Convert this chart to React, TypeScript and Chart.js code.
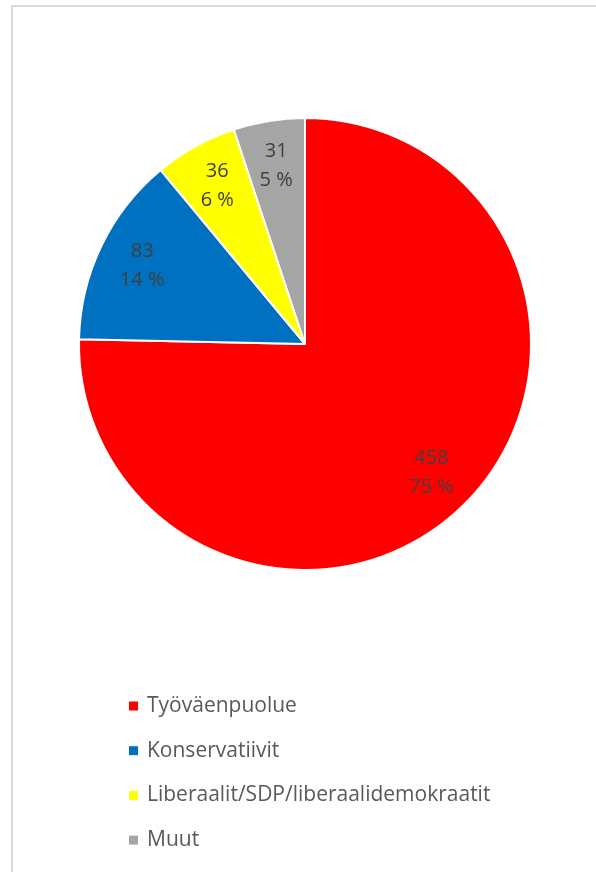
import React, { useEffect, useRef } from "react";
import { Chart, registerables } from "chart.js";

Chart.register(...registerables);

const categories = ["Työväenpuolue", "Konservatiivit", "Liberaalit/SDP/liberaalidemokraatit", "Muut"];
const seats = [458, 83, 36, 31];
const colors = ["#FF0000", "#0070C0", "#FFFF00", "#A5A5A5"];

const FONT = "'Open Sans', Lato, sans-serif";

const labelPlugin = {
  id: "sliceLabels",
  afterDatasetsDraw(chart: any) {
    const ctx = chart.ctx;
    const meta = chart.getDatasetMeta(0);
    const data = chart.data.datasets[0].data as number[];
    const total = data.reduce((a, b) => a + b, 0);
    ctx.save();
    ctx.font = `20px ${FONT}`;
    ctx.fillStyle = "#404040";
    ctx.textAlign = "center";
    ctx.textBaseline = "middle";
    meta.data.forEach((arc: any, i: number) => {
      const p = arc.getProps(["x", "y", "startAngle", "endAngle", "outerRadius"], true);
      const mid = (p.startAngle + p.endAngle) / 2;
      const d = p.outerRadius * 0.8;
      const cx = p.x + Math.cos(mid) * d;
      const cy = p.y + Math.sin(mid) * d;
      ctx.fillText(String(data[i]), cx, cy - 14.5);
      ctx.fillText(Math.round((data[i] / total) * 100) + " %", cx, cy + 14.5);
    });
    ctx.restore();
  },
};

const legendPlugin = {
  id: "listLegend",
  afterDraw(chart: any) {
    const ctx = chart.ctx;
    ctx.save();
    ctx.font = `21px ${FONT}`;
    ctx.textBaseline = "middle";
    ctx.textAlign = "left";
    const startY = 706;
    const step = 44.7;
    chart.data.labels.forEach((lab: string, i: number) => {
      const y = startY + i * step;
      ctx.fillStyle = colors[i];
      ctx.fillRect(129, y - 4.5, 9, 9);
      ctx.fillStyle = "#595959";
      ctx.fillText(lab, 147, y);
    });
    ctx.restore();
  },
};

export default function App() {
  const ref = useRef<HTMLCanvasElement>(null);
  useEffect(() => {
    if (!ref.current) return;
    const chart = new Chart(ref.current, {
      type: "pie",
      data: {
        labels: categories,
        datasets: [
          {
            data: seats,
            backgroundColor: colors,
            borderColor: "#FFFFFF",
            borderWidth: 2,
          },
        ],
      },
      options: {
        responsive: false,
        animation: false,
        layout: { padding: { left: 78, right: 64, top: 117, bottom: 301 } },
        plugins: {
          legend: { display: false },
          tooltip: { enabled: false },
        },
      },
      plugins: [labelPlugin, legendPlugin],
    });
    return () => chart.destroy();
  }, []);
  return (
    <div style={{ position: "absolute", left: 0, top: 0, width: 596, height: 872, background: "#fff", overflow: "hidden" }}>
      <div
        style={{
          position: "absolute",
          left: 11,
          top: 5,
          width: 700,
          height: 1000,
          borderLeft: "2px solid #D9D9D9",
          borderTop: "2px solid #D9D9D9",
        }}
      />
      <canvas ref={ref} width={596} height={872} style={{ position: "absolute", left: 0, top: 0 }} />
    </div>
  );
}
